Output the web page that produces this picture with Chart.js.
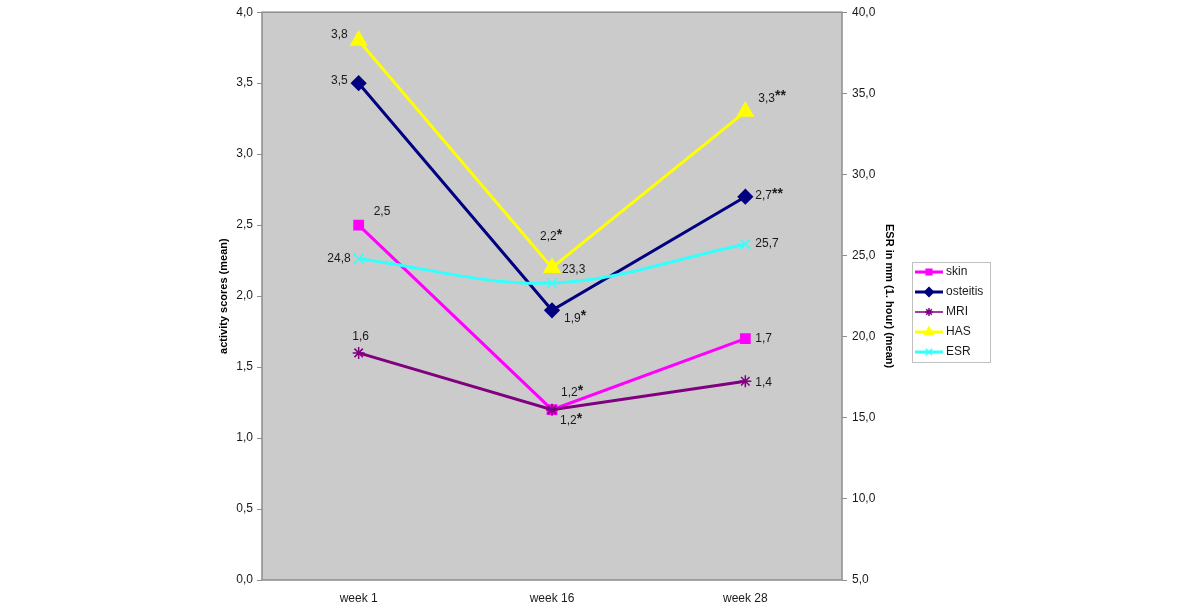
<!DOCTYPE html>
<html>
<head>
<meta charset="utf-8">
<script src="https://cdn.jsdelivr.net/npm/chart.js@4.4.1/dist/chart.umd.min.js"></script>
<style>
  html, body { margin: 0; padding: 0; background: #fff; }
  #wrap { width: 1200px; height: 608px; }
</style>
</head>
<body>
<div id="wrap"><canvas id="myChart" width="1200" height="608"></canvas></div>
<script>
// Datos
var weeks = ["week 1", "week 16", "week 28"];
var skin = [2.5, 1.2, 1.7];
var osteitis = [3.5, 1.9, 2.7];
var mri = [1.6, 1.2, 1.4];
var has = [3.8, 2.2, 3.3];
var esr = [24.8, 23.3, 25.7];

// significance marks next to the value labels
var skinStars = ["", "*", ""];
var osteitisStars = ["", "*", "**"];
var mriStars = ["", "*", ""];
var hasStars = ["", "*", "**"];
var esrStars = ["", "", ""];

var leftMin = 0, leftMax = 4, leftStep = 0.5;
var rightMin = 5, rightMax = 40, rightStep = 5;

// label placement per point: [dx, dy, align]
var labelPos = [
  [[15, -13, "left"], [9, -17, "left"], [10, 0, "left"]],
  [[-11, -2, "right"], [12, 8, "left"], [10, -1, "left"]],
  [[2, -16, "center"], [8, 11, "left"], [10, 1, "left"]],
  [[-11, -6, "right"], [-12, -31, "left"], [13, -13, "left"]],
  [[-8, 0, "right"], [10, -13, "left"], [10, 0, "left"]]
];
var allStars = [skinStars, osteitisStars, mriStars, hasStars, esrStars];

function fmt(v) {
  return v.toFixed(1).replace(".", ",");
}

var fontFam = "'Liberation Sans', Arial, sans-serif";

// fondo gris y borde del area de trazado
var plotBg = {
  id: "plotBg",
  beforeDatasetsDraw: function(chart) {
    var a = chart.chartArea;
    var ctx = chart.ctx;
    ctx.save();
    ctx.fillStyle = "#cbcbcb";
    ctx.fillRect(a.left, a.top, a.right - a.left, a.bottom - a.top);
    ctx.strokeStyle = "#8c8c8c";
    ctx.lineWidth = 1.5;
    ctx.strokeRect(a.left, a.top, a.right - a.left, a.bottom - a.top);
    ctx.restore();
  }
};

// etiquetas de valores
var valueLabels = {
  id: "valueLabels",
  afterDatasetsDraw: function(chart) {
    var ctx = chart.ctx;
    ctx.save();
    ctx.textBaseline = "middle";
    chart.data.datasets.forEach(function(ds, i) {
      var meta = chart.getDatasetMeta(i);
      meta.data.forEach(function(pt, j) {
        var txt = fmt(ds.data[j]);
        var star = allStars[i][j];
        var pos = labelPos[i][j];
        ctx.font = "12px " + fontFam;
        var w1 = ctx.measureText(txt).width;
        ctx.font = "bold 14px " + fontFam;
        var w2 = star ? ctx.measureText(star).width : 0;
        var total = w1 + w2;
        var x = pt.x + pos[0];
        var y = pt.y + pos[1];
        var startX = x;
        if (pos[2] === "right") startX = x - total;
        if (pos[2] === "center") startX = x - total / 2;
        ctx.fillStyle = "#1a1a1a";
        ctx.textAlign = "left";
        ctx.font = "12px " + fontFam;
        ctx.fillText(txt, startX, y);
        if (star) {
          ctx.font = "bold 14px " + fontFam;
          ctx.fillText(star, startX + w1, y - 2);
        }
      });
    });
    ctx.restore();
  }
};

// leyenda
var boxLegend = {
  id: "boxLegend",
  afterDraw: function(chart) {
    var ctx = chart.ctx;
    var bx = 912, by = 262, bw = 78, bh = 100;
    ctx.save();
    ctx.fillStyle = "#ffffff";
    ctx.fillRect(bx, by, bw, bh);
    ctx.strokeStyle = "#c0c0c0";
    ctx.lineWidth = 1;
    ctx.strokeRect(bx + 0.5, by + 0.5, bw, bh);
    var sizes = [4, 4.5, 4, 5, 4.5];
    chart.data.datasets.forEach(function(ds, i) {
      var y = by + 10 + i * 20;
      ctx.strokeStyle = ds.borderColor;
      ctx.lineWidth = i === 2 ? 1.5 : 3;
      ctx.beginPath();
      ctx.moveTo(bx + 3, y);
      ctx.lineTo(bx + 31, y);
      ctx.stroke();
      ctx.fillStyle = ds.pointBackgroundColor;
      ctx.strokeStyle = ds.pointBorderColor;
      ctx.lineWidth = 1.5;
      Chart.helpers.drawPoint(ctx, {
        pointStyle: ds.pointStyle,
        radius: sizes[i],
        rotation: 0,
        borderWidth: 1.5
      }, bx + 17, y);
      ctx.fillStyle = "#1a1a1a";
      ctx.font = "12px " + fontFam;
      ctx.textBaseline = "middle";
      ctx.textAlign = "left";
      ctx.fillText(ds.label, bx + 34, y);
    });
    ctx.restore();
  }
};

var canvas = document.getElementById("myChart");

var chart = new Chart(canvas, {
  type: "line",
  data: {
    labels: weeks,
    datasets: [
      {
        label: "skin",
        data: skin,
        yAxisID: "y",
        borderColor: "#ff00ff",
        backgroundColor: "#ff00ff",
        pointBackgroundColor: "#ff00ff",
        pointBorderColor: "#ff00ff",
        pointStyle: "rect",
        pointRadius: 5.5,
        borderWidth: 3,
        order: 5
      },
      {
        label: "osteitis",
        data: osteitis,
        yAxisID: "y",
        borderColor: "#000080",
        backgroundColor: "#000080",
        pointBackgroundColor: "#000080",
        pointBorderColor: "#000080",
        pointStyle: "rectRot",
        pointRadius: 6,
        borderWidth: 3,
        order: 4
      },
      {
        label: "MRI",
        data: mri,
        yAxisID: "y",
        borderColor: "#800080",
        backgroundColor: "#800080",
        pointBackgroundColor: "#800080",
        pointBorderColor: "#800080",
        pointStyle: "star",
        pointRadius: 6,
        pointBorderWidth: 1.5,
        borderWidth: 3,
        order: 3
      },
      {
        label: "HAS",
        data: has,
        yAxisID: "y",
        borderColor: "#ffff00",
        backgroundColor: "#ffff00",
        pointBackgroundColor: "#ffff00",
        pointBorderColor: "#ffff00",
        pointStyle: "triangle",
        pointRadius: 7.5,
        borderWidth: 3,
        order: 2
      },
      {
        label: "ESR",
        data: esr,
        yAxisID: "y1",
        borderColor: "#33ffff",
        backgroundColor: "#33ffff",
        pointBackgroundColor: "#33ffff",
        pointBorderColor: "#33ffff",
        pointStyle: "crossRot",
        pointRadius: 7,
        pointBorderWidth: 1.5,
        borderWidth: 3,
        tension: 0.35,
        order: 1
      }
    ]
  },
  options: {
    responsive: false,
    animation: false,
    layout: {
      padding: { left: 217, right: 304, top: 12, bottom: 0 }
    },
    plugins: {
      legend: { display: false },
      tooltip: { enabled: false }
    },
    scales: {
      x: {
        offset: true,
        grid: { display: false },
        border: { display: false },
        ticks: {
          padding: 3,
          color: "#1a1a1a",
          font: { family: fontFam, size: 12 }
        },
        afterFit: function(scale) { scale.height = 28; }
      },
      y: {
        position: "left",
        min: leftMin,
        max: leftMax,
        grid: { drawOnChartArea: false, tickLength: 5, color: "#8c8c8c" },
        border: { display: false },
        ticks: {
          stepSize: leftStep,
          padding: 4,
          color: "#1a1a1a",
          font: { family: fontFam, size: 12 },
          callback: function(v) { return fmt(v); }
        },
        title: {
          display: true,
          text: "activity scores (mean)",
          color: "#000",
          padding: 0,
          font: { family: fontFam, size: 11, weight: "bold" }
        },
        afterFit: function(scale) { scale.width = 45; }
      },
      y1: {
        position: "right",
        min: rightMin,
        max: rightMax,
        grid: { drawOnChartArea: false, tickLength: 5, color: "#8c8c8c" },
        border: { display: false },
        ticks: {
          stepSize: rightStep,
          padding: 5,
          color: "#1a1a1a",
          font: { family: fontFam, size: 12 },
          callback: function(v) { return fmt(v); }
        },
        title: {
          display: true,
          text: "ESR in mm (1. hour) (mean)",
          color: "#000",
          padding: 0,
          font: { family: fontFam, size: 11, weight: "bold" }
        },
        afterFit: function(scale) { scale.width = 54; }
      }
    }
  },
  plugins: [plotBg, valueLabels, boxLegend]
});
</script>
</body>
</html>
